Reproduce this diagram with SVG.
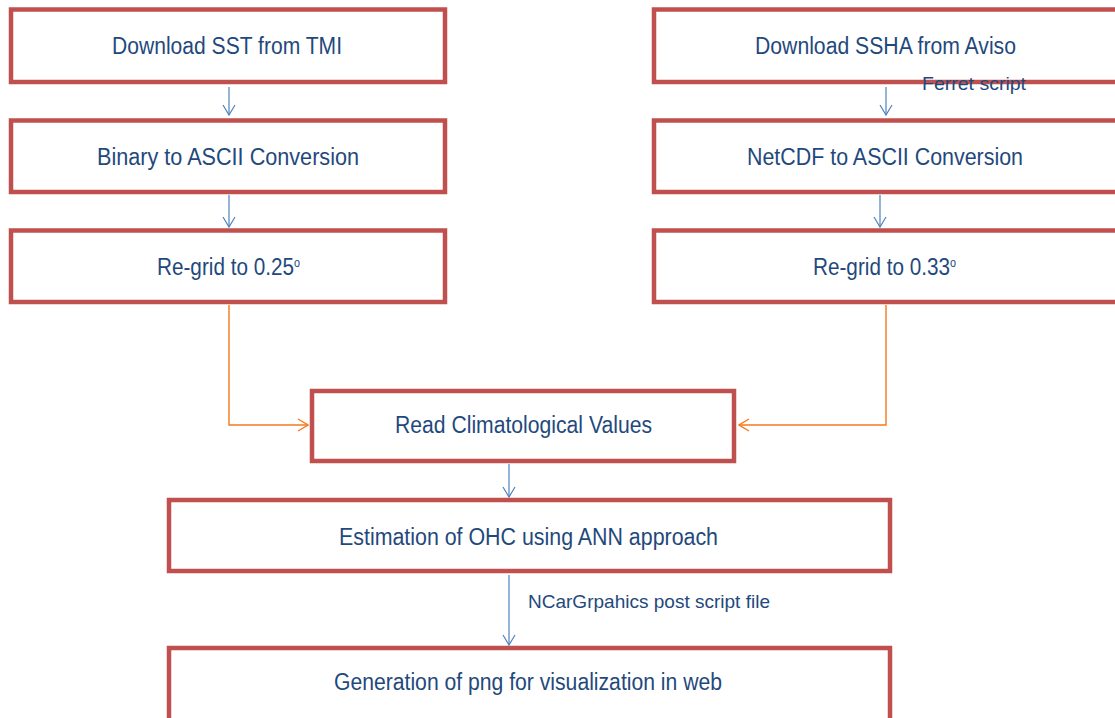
<svg xmlns="http://www.w3.org/2000/svg" width="1115" height="718" viewBox="0 0 1115 718">
  <style>
    .box { fill: #ffffff; stroke: #C0504D; stroke-width: 4.5; }
    .lbl { font-family: "Liberation Sans", Arial, sans-serif; font-size: 23px; fill: #1F497D; text-anchor: middle; }
    .lbl-s { font-family: "Liberation Sans", Arial, sans-serif; font-size: 23px; fill: #1F497D; }
    .note { font-family: "Liberation Sans", Arial, sans-serif; font-size: 19px; fill: #1F497D; }
    .sup { font-size: 12px; }
    .blue { fill: none; stroke: #4F81BD; stroke-width: 1.2; marker-end: url(#arrBlue); }
    .orange { fill: none; stroke: #F4791F; stroke-width: 1.4; marker-end: url(#arrOrange); }
  </style>
  <defs>
    <marker id="arrBlue" viewBox="0 0 12 14" refX="11" refY="7" markerWidth="12" markerHeight="14" markerUnits="userSpaceOnUse" orient="auto">
      <path d="M1,1 L11,7 L1,13" fill="none" stroke="#4F81BD" stroke-width="1.2"/>
    </marker>
    <marker id="arrOrange" viewBox="0 0 12 14" refX="11" refY="7" markerWidth="12" markerHeight="14" markerUnits="userSpaceOnUse" orient="auto">
      <path d="M1,1 L11,7 L1,13" fill="none" stroke="#F4791F" stroke-width="1.4"/>
    </marker>
  </defs>

  <rect width="1115" height="718" fill="#ffffff"/>

  <!-- connectors -->
  <g id="connectors">
    <path class="blue" d="M229,87 V115"/>
    <path class="blue" d="M229,195 V227"/>
    <path class="blue" d="M886,87 V115"/>
    <path class="blue" d="M880,195 V227"/>
    <path class="orange" d="M229,305 V425 H308"/>
    <path class="orange" d="M886,305 V425 H739"/>
    <path class="blue" d="M509,464 V497"/>
    <path class="blue" d="M509,575 V645"/>
  </g>

  <!-- left column: SST -->
  <g id="node-download-sst">
    <rect class="box" x="11" y="9.5" width="434" height="72.5"/>
    <text class="lbl" x="227" y="54" textLength="230" lengthAdjust="spacingAndGlyphs">Download SST from TMI</text>
  </g>
  <g id="node-binary-ascii">
    <rect class="box" x="11" y="120.5" width="434" height="71.5"/>
    <text class="lbl" x="228" y="165" textLength="262" lengthAdjust="spacingAndGlyphs">Binary to ASCII Conversion</text>
  </g>
  <g id="node-regrid-025">
    <rect class="box" x="11" y="230.5" width="434" height="71.5"/>
    <text class="lbl-s" x="157" y="275" textLength="143" lengthAdjust="spacingAndGlyphs">Re-grid to 0.25<tspan class="sup" dy="-8">o</tspan></text>
  </g>

  <!-- right column: SSHA -->
  <g id="node-download-ssha">
    <rect class="box" x="654" y="9.5" width="480" height="72.5"/>
    <text class="lbl" x="885.5" y="54" textLength="261" lengthAdjust="spacingAndGlyphs">Download SSHA from Aviso</text>
  </g>
  <g id="label-ferret">
    <text class="note" x="922" y="90" textLength="104" lengthAdjust="spacingAndGlyphs">Ferret script</text>
  </g>
  <g id="node-netcdf-ascii">
    <rect class="box" x="654" y="120.5" width="480" height="71.5"/>
    <text class="lbl" x="885" y="165" textLength="276" lengthAdjust="spacingAndGlyphs">NetCDF to ASCII Conversion</text>
  </g>
  <g id="node-regrid-033">
    <rect class="box" x="654" y="230.5" width="480" height="71.5"/>
    <text class="lbl-s" x="813" y="275" textLength="143" lengthAdjust="spacingAndGlyphs">Re-grid to 0.33<tspan class="sup" dy="-8">o</tspan></text>
  </g>

  <!-- merge and downstream steps -->
  <g id="node-climatology">
    <rect class="box" x="312" y="391" width="422" height="70"/>
    <text class="lbl" x="523.5" y="433" textLength="257" lengthAdjust="spacingAndGlyphs">Read Climatological Values</text>
  </g>
  <g id="node-ohc-ann">
    <rect class="box" x="169" y="500" width="721" height="71"/>
    <text class="lbl" x="528.5" y="545" textLength="379" lengthAdjust="spacingAndGlyphs">Estimation of OHC using ANN approach</text>
  </g>
  <g id="label-ncargraphics">
    <text class="note" x="528" y="608" textLength="242" lengthAdjust="spacingAndGlyphs">NCarGrpahics post script file</text>
  </g>
  <g id="node-png">
    <rect class="box" x="169" y="648" width="721" height="100"/>
    <text class="lbl" x="528" y="690" textLength="388" lengthAdjust="spacingAndGlyphs">Generation of png for visualization in web</text>
  </g>
</svg>
